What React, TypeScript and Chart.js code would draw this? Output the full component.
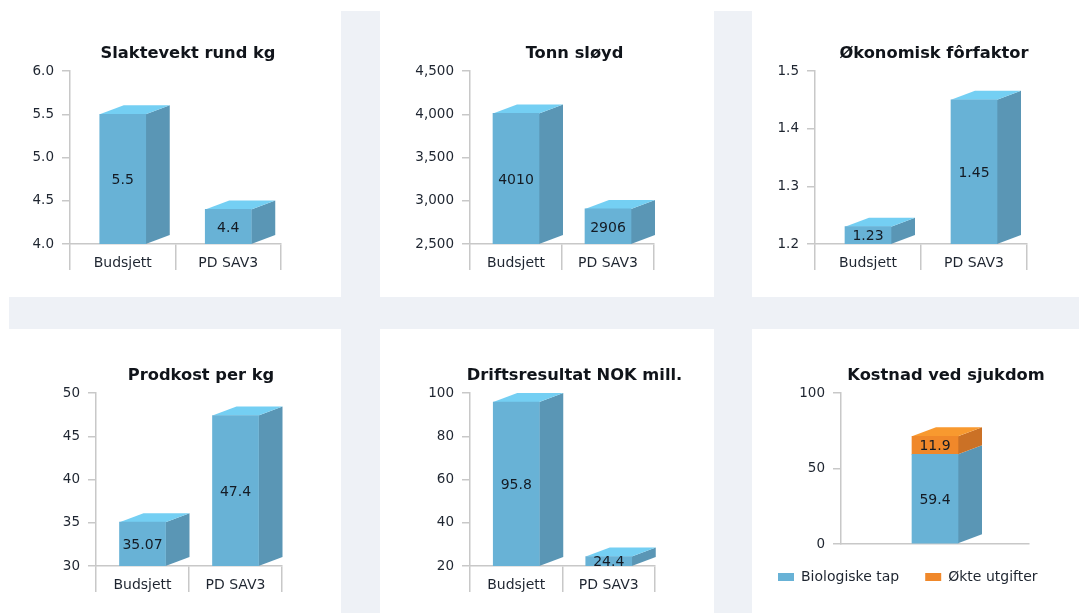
import React, { useEffect, useRef } from "react";
import { Chart, registerables } from "chart.js";

Chart.register(...registerables);

const categories = ["Budsjett", "PD SAV3"];
const slaktevekt = [5.5, 4.4];
const tonnSloyd = [4010, 2906];
const forfaktor = [1.23, 1.45];
const prodkost = [35.07, 47.4];
const driftsresultat = [95.8, 24.4];
const biologiskeTap = [59.4];
const okteUtgifter = [11.9];

const FONT = '"DejaVu Sans", Verdana, sans-serif';
const TEXT = "#1e2530";
const BLUE = "#68b2d6";
const ORANGE = "#f0882a";
const FACES: Record<string, { side: string; top: string }> = {
  [BLUE]: { side: "#5a96b5", top: "#74cff3" },
  [ORANGE]: { side: "#cb7126", top: "#f8992f" },
};
const DX = 24;
const DY = 9;
const AXIS = "#c8c8c8";

const bar3d = {
  id: "bar3d",
  beforeDatasetsDraw(chart: any) {
    const { ctx, chartArea } = chart;
    const n = chart.data.datasets.length;
    chart.data.datasets.forEach((ds: any, i: number) => {
      const faces = FACES[ds.backgroundColor];
      chart.getDatasetMeta(i).data.forEach((el: any) => {
        const { x, y, base: rawBase, width } = el.getProps(["x", "y", "base", "width"], true);
        const base = Math.min(rawBase, chartArea.bottom);
        const r = x + width / 2;
        const l = x - width / 2;
        ctx.save();
        ctx.fillStyle = faces.side;
        ctx.beginPath();
        ctx.moveTo(r, y);
        ctx.lineTo(r + DX, y - DY);
        ctx.lineTo(r + DX, base - DY);
        ctx.lineTo(r, base);
        ctx.closePath();
        ctx.fill();
        if (i === n - 1) {
          ctx.fillStyle = faces.top;
          ctx.beginPath();
          ctx.moveTo(l, y);
          ctx.lineTo(l + DX, y - DY);
          ctx.lineTo(r + DX, y - DY);
          ctx.lineTo(r, y);
          ctx.closePath();
          ctx.fill();
        }
        ctx.restore();
      });
    });
  },
  afterDatasetsDraw(chart: any) {
    const { ctx, chartArea } = chart;
    chart.data.datasets.forEach((ds: any, i: number) => {
      chart.getDatasetMeta(i).data.forEach((el: any, j: number) => {
        const { x, y, base: rawBase } = el.getProps(["x", "y", "base"], true);
        const base = Math.min(rawBase, chartArea.bottom);
        ctx.save();
        ctx.font = `14px ${FONT}`;
        ctx.fillStyle = "#141b24";
        ctx.textAlign = "center";
        ctx.textBaseline = "middle";
        ctx.fillText(String(ds.data[j]), x, (y + base) / 2 + 1.5);
        ctx.restore();
      });
    });
  },
};

type Spec = {
  title: string;
  labels: string[];
  series: { label: string; data: number[]; color: string }[];
  min: number;
  max: number;
  step: number;
  decimals: number;
  x0: number;
  y0: number;
  w: number;
  h: number;
  left: number;
  right: number;
  top: number;
  bottom: number;
};

const specs: Spec[] = [
  { title: "Slaktevekt rund kg", labels: categories, series: [{ label: "Slaktevekt", data: slaktevekt, color: BLUE }], min: 4, max: 6, step: 0.5, decimals: 1, x0: 10, y0: 0, w: 356, h: 275, left: 70, right: 281, top: 71, bottom: 244 },
  { title: "Tonn sløyd", labels: categories, series: [{ label: "Tonn", data: tonnSloyd, color: BLUE }], min: 2500, max: 4500, step: 500, decimals: 0, x0: 400, y0: 0, w: 349, h: 275, left: 470, right: 654, top: 71, bottom: 244 },
  { title: "Økonomisk fôrfaktor", labels: categories, series: [{ label: "Fôrfaktor", data: forfaktor, color: BLUE }], min: 1.2, max: 1.5, step: 0.1, decimals: 1, x0: 765, y0: 0, w: 338, h: 275, left: 815, right: 1027, top: 71, bottom: 244 },
  { title: "Prodkost per kg", labels: categories, series: [{ label: "Prodkost", data: prodkost, color: BLUE }], min: 30, max: 50, step: 5, decimals: 0, x0: 50, y0: 322, w: 302, h: 275, left: 96, right: 282, top: 393, bottom: 566 },
  { title: "Driftsresultat NOK mill.", labels: categories, series: [{ label: "Driftsresultat", data: driftsresultat, color: BLUE }], min: 20, max: 100, step: 20, decimals: 0, x0: 400, y0: 322, w: 349, h: 275, left: 470, right: 655, top: 393, bottom: 566 },
  { title: "Kostnad ved sjukdom", labels: [""], series: [{ label: "Biologiske tap", data: biologiskeTap, color: BLUE }, { label: "Økte utgifter", data: okteUtgifter, color: ORANGE }], min: 0, max: 100, step: 50, decimals: 0, x0: 752, y0: 322, w: 388, h: 272, left: 841, right: 1029, top: 393, bottom: 543 },
];

function Panel({ spec }: { spec: Spec }) {
  const ref = useRef<HTMLCanvasElement>(null);
  useEffect(() => {
    const hasLegend = spec.series.length > 1;
    const plotLeft = spec.left - spec.x0;
    const plotRight = spec.right - spec.x0;
    const xHeight = hasLegend ? 0 : spec.h - (spec.bottom - spec.y0);
    const chart = new Chart(ref.current as HTMLCanvasElement, {
      type: "bar",
      data: {
        labels: spec.labels,
        datasets: spec.series.map((s) => ({
          label: s.label,
          data: s.data,
          backgroundColor: s.color,
          borderWidth: 0,
          barThickness: 46,
          categoryPercentage: 1,
        })),
      },
      options: {
        animation: false,
        responsive: false,
        layout: { padding: { top: 45, left: 0, right: 0, bottom: 0 } },
        plugins: {
          tooltip: { enabled: false },
          title: {
            display: true,
            text: spec.title,
            color: "#10141a",
            font: { family: FONT, size: 16.3, weight: "bold", lineHeight: "17px" },
            padding: { top: 0, bottom: 9 },
          },
          legend: {
            display: hasLegend,
            position: "bottom",
            align: "start",
            labels: {
              boxWidth: 16,
              boxHeight: 8,
              padding: 26,
              color: TEXT,
              font: { family: FONT, size: 14 },
            },
          },
        },
        scales: {
          x: {
            stacked: hasLegend,
            afterFit: (s: any) => {
              s.height = xHeight;
            },
            border: { color: AXIS, width: 1.5 },
            grid: {
              display: !hasLegend,
              drawOnChartArea: false,
              drawTicks: true,
              tickLength: 26,
              tickColor: AXIS,
              lineWidth: 1.5,
            },
            ticks: {
              display: !hasLegend,
              padding: -15,
              color: TEXT,
              maxRotation: 0,
              font: { family: FONT, size: 14 },
            },
          },
          y: {
            stacked: hasLegend,
            min: spec.min,
            max: spec.max,
            afterFit: (s: any) => {
              s.width = plotLeft;
            },
            border: { color: AXIS, width: 1.5 },
            grid: {
              drawOnChartArea: false,
              drawTicks: true,
              tickLength: 8,
              tickColor: AXIS,
              lineWidth: 1.5,
            },
            ticks: {
              stepSize: spec.step,
              padding: 8,
              color: TEXT,
              font: { family: FONT, size: 13.5 },
              callback: (v: number) =>
                v.toLocaleString("en-US", {
                  minimumFractionDigits: spec.decimals,
                  maximumFractionDigits: spec.decimals,
                }),
            },
          },
          y2: {
            display: true,
            position: "right",
            afterFit: (s: any) => {
              s.width = spec.w - plotRight;
            },
            border: { display: false },
            grid: { display: false },
            ticks: { display: false },
          },
        },
      } as any,
      plugins: [bar3d],
    });
    return () => chart.destroy();
  }, [spec]);
  return (
    <canvas
      ref={ref}
      width={spec.w}
      height={spec.h}
      style={{ position: "absolute", left: spec.x0, top: spec.y0, width: spec.w, height: spec.h, display: "block" }}
    />
  );
}

const BAND = "#eef1f6";

export default function App() {
  return (
    <div style={{ position: "fixed", left: 0, top: 0, width: 1079, height: 613, overflow: "hidden", background: "#fff" }}>
      <div style={{ position: "absolute", left: 9, top: 297, width: 1070, height: 32, background: BAND }} />
      <div style={{ position: "absolute", left: 341, top: 11, width: 39, height: 602, background: BAND }} />
      <div style={{ position: "absolute", left: 714, top: 11, width: 38, height: 602, background: BAND }} />
      {specs.map((s) => (
        <Panel key={s.title} spec={s} />
      ))}
    </div>
  );
}
